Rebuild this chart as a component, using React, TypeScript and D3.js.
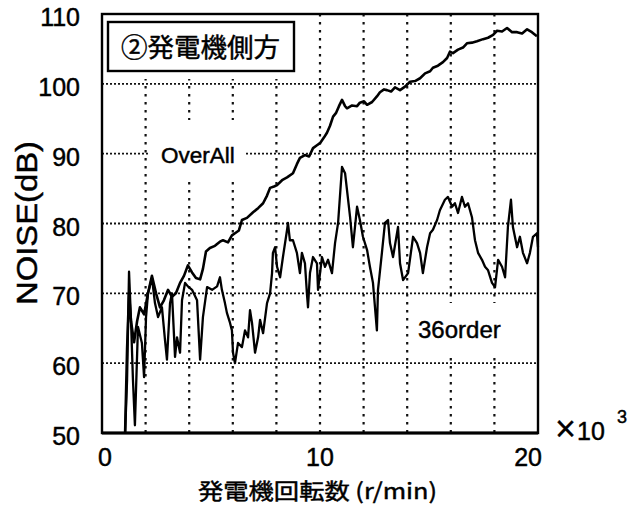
import React from "react";
import * as d3 from "d3";

// Rotational speed (×10^3 r/min) and overall noise level (dB)
const overallRpm = [1.06,1.15,1.24,1.33,1.47,1.61,1.74,1.93,2.11,2.29,2.48,2.66,2.84,3.03,3.21,3.39,3.58,3.76,3.94,4.13,4.31,4.50,4.63,4.77,4.95,5.18,5.41,5.55,5.78,5.96,6.10,6.28,6.42,6.65,6.93,7.16,7.39,7.57,7.71,7.89,8.03,8.26,8.49,8.76,8.94,9.08,9.31,9.50,9.68,9.86,10.00,10.18,10.32,10.46,10.60,10.73,10.87,11.01,11.15,11.24,11.47,11.70,11.83,12.02,12.16,12.39,12.61,12.75,12.94,13.07,13.26,13.44,13.67,13.90,14.13,14.36,14.59,14.82,15.05,15.18,15.41,15.64,15.83,15.96,16.10,16.33,16.56,16.74,16.97,17.20,17.48,17.71,17.94,18.12,18.35,18.58,18.81,19.04,19.27,19.50,19.72,19.95];
const overallDb = [50,62,70,66,63,66,68,67,70,72.5,70,68,69,70.5,69.5,70,71.5,72.5,74,73,72.2,72,73.5,76,76.5,76.8,77.4,77.6,77.3,78.3,78.6,79,80.5,80.8,81.6,82.2,82.9,84,85.1,85.3,85.5,86.2,86.6,87.2,88.5,89.4,89.8,89.6,90.8,91.2,91.5,92.3,93,94,95.3,95.8,96.8,97.7,96.8,96.5,96.9,96.8,97.3,97.5,97,97.4,98.2,98.8,99.2,99.1,98.9,99.5,99.1,99.6,100.3,100.4,100.8,101.5,101.8,102.3,102.6,103.1,103.7,104.6,104.4,104.9,105.2,105.8,105.9,106.1,106.4,106.6,107,107.6,107.5,108,107.4,107.4,107.2,107.8,107.4,106.8];

// 36th-order component
const order36Rpm = [1.06,1.15,1.24,1.33,1.42,1.51,1.65,1.83,1.93,2.02,2.11,2.29,2.43,2.57,2.75,2.89,2.98,3.12,3.21,3.35,3.44,3.58,3.67,3.81,3.94,4.13,4.36,4.50,4.63,4.82,5.05,5.28,5.41,5.50,5.64,5.73,5.87,5.96,6.01,6.10,6.24,6.42,6.56,6.70,6.79,6.88,7.02,7.16,7.25,7.39,7.57,7.71,7.80,7.84,7.94,8.03,8.17,8.30,8.49,8.53,8.62,8.76,8.94,9.08,9.17,9.31,9.40,9.45,9.54,9.68,9.86,9.91,10.09,10.23,10.37,10.55,10.69,10.83,11.01,11.15,11.38,11.51,11.70,11.83,11.97,12.16,12.29,12.43,12.61,12.66,12.84,12.98,13.12,13.21,13.35,13.58,13.67,13.81,14.04,14.27,14.45,14.59,14.72,14.91,15.05,15.18,15.37,15.50,15.73,15.87,16.06,16.19,16.33,16.51,16.65,16.79,16.97,17.11,17.25,17.43,17.57,17.71,17.89,18.03,18.17,18.35,18.49,18.62,18.76,18.85,19.04,19.17,19.31,19.50,19.63,19.77,19.95,20.00];
const order36Db = [50,57.6,73.1,66.2,57.6,51.1,65.2,62.9,58,66.6,70,72.2,68.6,66.6,68,63.3,60.5,68.6,70,60.9,63.7,61.5,69,71.5,71,70.5,69,60.5,66.6,70.9,70.5,71,72.3,70.5,68.6,67.2,65.8,64.7,61.5,60,62.9,62.3,64.7,63.7,67.6,65.8,61.5,63.7,66.2,64.3,68.6,70,72.9,75.8,76.6,73.8,72.3,75.2,79.1,80.1,77.6,77.6,75.8,72.9,75.8,74.3,70,68,72.9,75.2,74.3,70.5,75.2,73.8,74.8,72.9,77.2,80.1,88.1,87.2,80.9,76.6,82.4,80.5,78.1,76.2,73.8,71.5,64.7,70.5,75.8,80.1,80.5,77.2,75.2,79.5,74.3,71.9,72.9,78.1,77.2,75.8,72.9,76.6,78.6,79.1,80.5,81.9,83.4,83.8,82.4,82.9,81.5,83.8,82.4,82.9,80.9,77.6,75.8,74.8,73.8,73.3,71.5,70.9,74.8,73.8,72.3,79.5,83.4,79.5,76.6,78.1,75.8,74.3,75.8,78.1,78.6,76.6];

const yTicks = [50, 60, 70, 80, 90, 100, 110];
const yGrid = [60, 70, 80, 90, 100];
const xTicks = [0, 10, 20];
const xGrid = [2, 4, 6, 8, 10, 12, 14, 16, 18];

const title = "②発電機側方";
const xTitle = "発電機回転数 (r/min)";
const yTitle = "NOISE(dB)";
const overallLabel = "OverAll";
const orderLabel = "36order";

const SANS = "'Liberation Sans', Arial, Helvetica, sans-serif";
const CJK = "'Noto Sans CJK JP', 'Noto Sans', sans-serif";

// slightly heavier ink for all lettering
const ink = { fill: "#000", stroke: "#000", strokeWidth: 0.45 };

export default function App() {
  const W = 639;
  const H = 515;
  const x = d3.scaleLinear().domain([0, 20]).range([102, 538]);
  const y = d3.scaleLinear().domain([50, 110]).range([433, 14]);

  const line = d3
    .line<[number, number]>()
    .x((d) => x(d[0]))
    .y((d) => y(d[1]));

  const overallPts = overallRpm.map((r, i) => [r, overallDb[i]] as [number, number]);
  const orderPts = order36Rpm.map((r, i) => [r, order36Db[i]] as [number, number]);

  const [x0, x1] = x.range();
  const [y0, y1] = [y(50), y(110)];

  return (
    <svg
      width={W}
      height={H}
      viewBox={`0 0 ${W} ${H}`}
      style={{ position: "absolute", left: 0, top: 0, background: "#fff" }}
    >
      <rect x={0} y={0} width={W} height={H} fill="#fff" />

      {/* dotted grid */}
      {yGrid.map((v) => (
        <line
          key={`gy${v}`}
          x1={x0}
          x2={x1}
          y1={y(v)}
          y2={y(v)}
          stroke="#111"
          strokeWidth={1.8}
          strokeDasharray="2,2"
        />
      ))}
      {xGrid.map((v) => (
        <line
          key={`gx${v}`}
          x1={x(v)}
          x2={x(v)}
          y1={y1}
          y2={y0}
          stroke="#111"
          strokeWidth={2.2}
          strokeDasharray="2.5,5.5"
        />
      ))}

      {/* clear areas behind the title and the series labels */}
      <rect x={x0 + 1} y={y1 + 1} width={195} height={64} fill="#fff" />
      <rect x={150} y={120} width={96} height={62} fill="#fff" />
      <rect x={410} y={303} width={100} height={51} fill="#fff" />

      {/* series */}
      <path d={line(overallPts) ?? ""} fill="none" stroke="#000" strokeWidth={2.6} strokeLinejoin="round" />
      <path d={line(orderPts) ?? ""} fill="none" stroke="#000" strokeWidth={2.3} strokeLinejoin="round" />

      {/* plot frame */}
      <rect x={x0} y={y1} width={x1 - x0} height={y0 - y1} fill="none" stroke="#000" strokeWidth={2.4} />
      <line x1={x0} x2={x1} y1={y0} y2={y0} stroke="#000" strokeWidth={3.2} />

      {/* title box */}
      <rect x={108} y={22} width={186} height={49} fill="#fff" stroke="#000" strokeWidth={2.4} />
      <text x={121} y={57} fontFamily={CJK} fontSize={26} textLength={159} lengthAdjust="spacingAndGlyphs" {...ink}>
        {title}
      </text>

      {/* series labels */}
      <text x={161} y={163} fontFamily={SANS} fontSize={22.5} {...ink}>
        {overallLabel}
      </text>
      <text x={418} y={338} fontFamily={SANS} fontSize={24} {...ink}>
        {orderLabel}
      </text>

      {/* y ticks */}
      {yTicks.map((v) => (
        <text
          key={`ty${v}`}
          x={80}
          y={y(v) + 12}
          textAnchor="end"
          fontFamily={SANS}
          fontSize={25}
          {...ink}
        >
          {v}
        </text>
      ))}

      {/* x ticks */}
      {xTicks.map((v, i) => {
        const last = i === xTicks.length - 1;
        const first = i === 0;
        return (
          <text
            key={`tx${v}`}
            x={x(v) + (first ? 3 : last ? 4 : 0)}
            y={466}
            textAnchor={last ? "end" : "middle"}
            fontFamily={SANS}
            fontSize={25}
            {...ink}
          >
            {v}
          </text>
        );
      })}

      {/* multiplier */}
      <text x={555} y={441} fontFamily={SANS} fontSize={36} {...ink} strokeWidth={0.3}>
        ×
      </text>
      <text x={577} y={440} fontFamily={SANS} fontSize={25} {...ink}>
        10
      </text>
      <text x={617} y={423} fontFamily={SANS} fontSize={18} {...ink}>
        3
      </text>

      {/* axis titles */}
      <text
        x={198}
        y={499}
        fontFamily={CJK}
        fontSize={22}
        textLength={239}
        lengthAdjust="spacingAndGlyphs"
        {...ink}
      >
        {xTitle}
      </text>
      <text
        transform={`translate(37, ${223}) rotate(-90)`}
        textAnchor="middle"
        fontFamily={SANS}
        fontSize={30}
        textLength={164}
        lengthAdjust="spacingAndGlyphs"
        {...ink}
      >
        {yTitle}
      </text>
    </svg>
  );
}
